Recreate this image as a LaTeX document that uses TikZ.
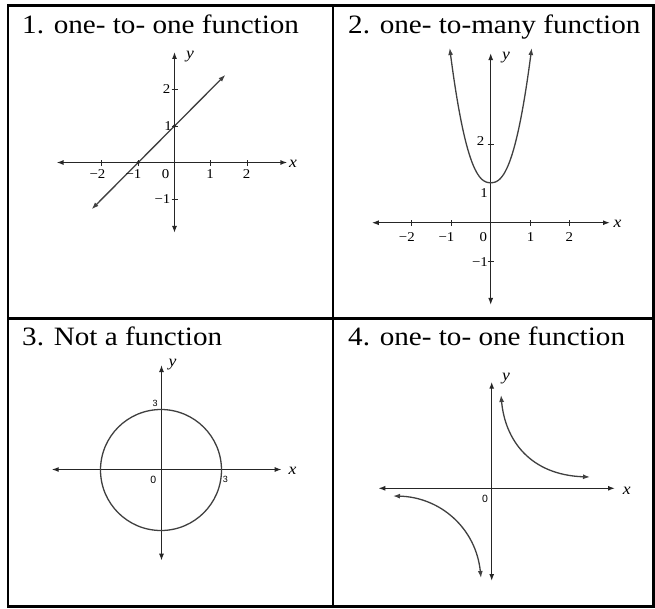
\documentclass[tikz,border=0pt]{standalone}
\usepackage{fontspec}
\setmainfont{Liberation Serif}[FakeStretch=1.1]
\newfontfamily\labsans{Liberation Sans}
\usetikzlibrary{arrows.meta}
\begin{document}
\begin{tikzpicture}[x=1pt,y=-1pt,
  frame/.style={line width=2.6pt,black},
  axisline/.style={line width=1.3pt,draw=black!85,{Latex[length=7pt,width=5pt]}-{Latex[length=7pt,width=5pt]}},
  curveline/.style={line width=1.3pt,draw=black!75,{Latex[length=7pt,width=5pt]}-{Latex[length=7pt,width=5pt]}},
  circline/.style={line width=1.3pt,draw=black!75},
  tickline/.style={line width=1pt,draw=black!85},
  title/.style={anchor=base west,inner sep=0pt,font=\fontsize{26.5}{30}\selectfont},
  num/.style={inner sep=0pt,font=\fontsize{13.5}{15}\selectfont},
  var/.style={inner sep=0pt,font=\fontsize{16}{18}\selectfont\itshape},
  smallnum/.style={inner sep=0pt,font=\labsans\fontsize{9}{10}\selectfont},
  zeronum/.style={inner sep=0pt,font=\labsans\fontsize{10.5}{12}\selectfont},
]
\useasboundingbox (0,0) rectangle (655,608);
\fill[white] (0,0) rectangle (655,608);
% ---------- table frame ----------
\draw[frame] (8,5.3) -- (653.7,5.3) -- (653.7,606.7) -- (8,606.7) -- cycle;
\draw[frame] (333,5.3) -- (333,606.7);
\draw[frame] (8,318.7) -- (653.7,318.7);
% ---------- titles ----------
\node[title] (t1) at (22,33) {1. one- to- one function};
\node[title] (t2) at (348,33) {2. one- to-many function};
\node[title] (t3) at (22,345) {3. Not a function};
\node[title] (t4) at (348,345) {4. one- to- one function};
% ---------- graph 1 ----------
\begin{scope}[shift={(174.5,162.5)},x=36.3pt,y=36.5pt]
  \coordinate (g1xl) at (-3.25,0); \coordinate (g1xr) at (3.11,0);
  \coordinate (g1yb) at (0,-1.93); \coordinate (g1yt) at (0,3.03);
  \draw[axisline] (g1xl) -- (g1xr);
  \draw[axisline] (g1yb) -- (g1yt);
  \foreach \k in {-2,-1,1,2} \draw[tickline] (\k,0) +(0,-3pt) -- +(0,3pt);
  \foreach \k in {-1,1,2} \draw[tickline] (0,\k) +(-3pt,0) -- +(3pt,0);
  \coordinate (l1a) at (-2.28,-1.28); \coordinate (l1b) at (1.4,2.4);
  \draw[curveline] (l1a) -- (l1b);
  \fill[black!85] (-1,0) circle (1.8pt);
  \fill[black!85] (0,1) circle (1.8pt);
\end{scope}
\node[num] (g1n2) at (101.7,174) {\llap{−}2};
\node[num] (g1n1) at (137.7,174) {\llap{−}1};
\node[num] (g1n0) at (165.7,174) {0};
\node[num] (g1p1) at (210,174) {1};
\node[num] (g1p2) at (246.7,174) {2};
\node[num,anchor=east] (g1y2) at (170.5,89.3) {2};
\node[num,anchor=east] (g1y1) at (172,126) {1};
\node[num,anchor=east] (g1ym) at (170.5,199) {−1};
\node[var] (g1x) at (293,164) {x};
\node[var] (g1y) at (190,57) {y};
% ---------- graph 2 ----------
\begin{scope}[shift={(490.7,222.7)},x=39.5pt,y=39pt]
  \coordinate (g2xl) at (-3.01,0); \coordinate (g2xr) at (3.02,0);
  \coordinate (g2yb) at (0,-2.11); \coordinate (g2yt) at (0,4.35);
  \draw[axisline] (g2xl) -- (g2xr);
  \draw[axisline] (g2yb) -- (g2yt);
  \foreach \k in {-2,-1,1,2} \draw[tickline] (\k,0) +(0,-3pt) -- +(0,3pt);
  \foreach \k in {-1,2} \draw[tickline] (0,\k) +(-3pt,0) -- +(3pt,0);
\end{scope}
\draw[curveline] plot[domain=-41:41,samples=60] ({490.7+\x},{182.7-134.7*pow(abs(\x)/41,2.4)});
\node[num] (g2n2) at (411,237) {\llap{−}2};
\node[num] (g2n1) at (450.7,237) {\llap{−}1};
\node[num] (g2n0) at (483.3,237) {0};
\node[num] (g2p1) at (530.7,237) {1};
\node[num] (g2p2) at (569.3,237) {2};
\node[num] (g2y2) at (480.5,141) {2};
\node[num] (g2y1) at (484,193) {1};
\node[num] (g2ym) at (480,261.7) {−1};
\node[var] (g2x) at (617.5,224) {x};
\node[var] (g2y) at (506,57.5) {y};
% ---------- graph 3 ----------
\coordinate (g3xl) at (51.7,469.5); \coordinate (g3xr) at (281.7,469.5);
\coordinate (g3yb) at (161.5,560.7); \coordinate (g3yt) at (161.5,365);
\draw[axisline] (g3xl) -- (g3xr);
\draw[axisline] (g3yb) -- (g3yt);
\coordinate (g3c) at (161,470);
\draw[circline] (g3c) circle (60.5);
\node[smallnum] (g3a) at (155,403.3) {3};
\node[smallnum] (g3b) at (225.3,479.7) {3};
\node[zeronum] (g3o) at (153.3,480) {0};
\node[var] (g3x) at (292.5,471) {x};
\node[var] (g3y) at (172.5,364.5) {y};
% ---------- graph 4 ----------
\coordinate (g4xl) at (378.3,488.3); \coordinate (g4xr) at (615,488.3);
\coordinate (g4yb) at (491.7,581); \coordinate (g4yt) at (491.7,381.7);
\draw[axisline] (g4xl) -- (g4xr);
\draw[axisline] (g4yb) -- (g4yt);
\coordinate (h1a) at (501,395); \coordinate (h1b) at (590,477);
\coordinate (h2a) at (393,496); \coordinate (h2b) at (481,578);
\draw[curveline] (h1a) .. controls (505,440) and (530,475) .. (h1b);
\draw[curveline] (h2a) .. controls (440,497) and (476,528) .. (h2b);
\node[zeronum] (g4o) at (485,499) {0};
\node[var] (g4x) at (626.7,491) {x};
\node[var] (g4y) at (506,379) {y};
\end{tikzpicture}
\end{document}
